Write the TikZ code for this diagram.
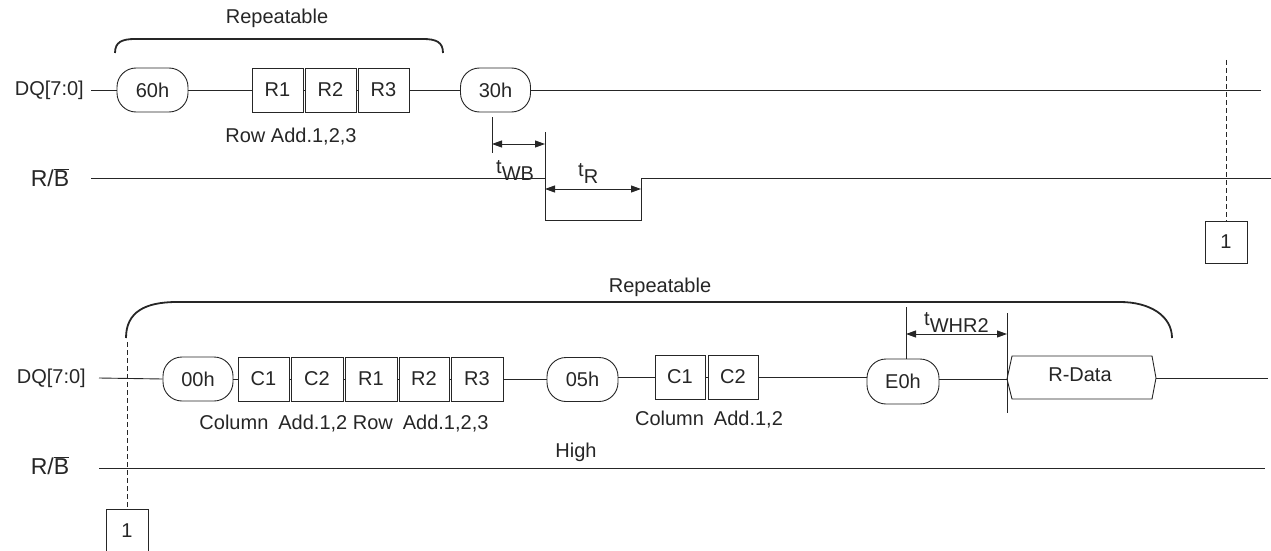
\documentclass[tikz,border=0pt]{standalone}
\usepackage{fontspec}
\setmainfont{Liberation Sans}
\usetikzlibrary{arrows.meta}
\begin{document}
\begin{tikzpicture}[x=1pt,y=-1pt,
  font=\fontsize{20}{24}\selectfont,
  every node/.style={text=black!85},
  sig/.style={line width=0.9pt, draw=black!85},
  brace/.style={line width=1.8pt, draw=black!85},
  pill/.style={draw=black!85, line width=0.9pt, fill=white, rounded corners=19pt, minimum width=71pt, minimum height=44pt, inner sep=0pt},
  cell/.style={draw=black!85, line width=0.9pt, fill=white, minimum width=51pt, minimum height=44pt, inner sep=0pt},
  refbox/.style={draw=black!85, line width=0.9pt, fill=white, minimum width=42pt, minimum height=42pt, inner sep=0pt},
  lbl/.style={inner sep=0pt},
  dim/.style={line width=0.9pt, draw=black!85, {Triangle[length=10pt,width=7pt]}-{Triangle[length=10pt,width=7pt]}},
  guide/.style={line width=0.9pt, draw=black!85},
  dashline/.style={line width=0.9pt, draw=black!85, dash pattern=on 5pt off 3pt}
]
\useasboundingbox (0,0) rectangle (1271,551);

% ---------------- top section ----------------
\node[lbl] (rep1) at (277,18) {Repeatable};
\coordinate (b1l) at (115,53);
\coordinate (b1r) at (443,53);
\draw[brace] (b1l) .. controls (115,42) and (122,39) .. (135,39) -- (423,39) .. controls (436,39) and (443,42) .. (b1r);

\node[lbl, anchor=east] (dq1) at (84,90) {DQ[7:0]};
\coordinate (dq1s) at (91,90);
\node[pill] (p60) at (152.5,90) {60h};
\node[cell] (r11) at (277.5,90) {R1};
\node[cell] (r12) at (330.5,90) {R2};
\node[cell] (r13) at (383.5,90) {R3};
\node[pill, minimum width=70pt] (p30) at (495.5,90) {30h};
\coordinate (dq1e) at (1261,90);
\draw[sig] (dq1s) -- (p60.west);
\draw[sig] (p60.east) -- (r11.west);
\draw[sig] (r11.east) -- (r12.west);
\draw[sig] (r12.east) -- (r13.west);
\draw[sig] (r13.east) -- (p30.west);
\draw[sig] (p30.east) -- (dq1e);
\node[lbl] (row1) at (291,137) {Row Add.1,2,3};

\node[lbl, font=\fontsize{23}{27}\selectfont] (rb1) at (50,178) {R/$\overline{\mbox{B}}$};
\coordinate (rb1s) at (91,178);
\coordinate (fall) at (545,178);
\coordinate (lowa) at (545,220);
\coordinate (lowb) at (641,220);
\coordinate (rise) at (641,178);
\coordinate (rb1e) at (1271,178);
\draw[sig] (rb1s) -- (fall) -- (lowa) -- (lowb) -- (rise) -- (rb1e);

% tWB
\coordinate (wbtop) at (492,117);
\coordinate (wbbot) at (492,153);
\coordinate (wbr) at (545,132);
\draw[guide] (wbtop) -- (wbbot);
\draw[guide] (wbr) -- (fall);
\coordinate (wba) at (492,144);
\coordinate (wbb) at (545,144);
\draw[dim] (wba) -- (wbb);
\node[lbl, anchor=north west] (twb) at (496,160) {t\raisebox{-7pt}{WB}};

% tR
\coordinate (tra) at (545,189);
\coordinate (trb) at (641,189);
\draw[dim] (tra) -- (trb);
\node[lbl, anchor=north west] (ttr) at (578,163) {t\raisebox{-7pt}{R}};

% connector 1 (top)
\node[refbox] (c1top) at (1226,242) {1};
\coordinate (d1top) at (1226,60);
\draw[dashline] (d1top) -- (c1top.north);

% ---------------- bottom section ----------------
\node[lbl] (rep2) at (660,287) {Repeatable};
\coordinate (b2l) at (126,338);
\coordinate (b2r) at (1172,338);
\draw[brace] (b2l) .. controls (126,312) and (145,302) .. (177,302) -- (1120,302) .. controls (1150,302) and (1172,316) .. (b2r);

\node[lbl, anchor=east] (dq2) at (86,378) {DQ[7:0]};
\coordinate (dq2s) at (99,378);
\node[pill, minimum width=70pt] (p00) at (198,379) {00h};
\node[cell] (c21) at (263.5,379) {C1};
\node[cell, minimum width=52pt] (c22) at (317,379) {C2};
\node[cell, minimum width=52pt] (r21) at (371,379) {R1};
\node[cell, minimum width=50pt] (r22) at (424,379) {R2};
\node[cell, minimum width=52pt] (r23) at (477,379) {R3};
\node[pill] (p05) at (582.5,379.5) {05h};
\node[cell, minimum width=50pt] (c31) at (680,377) {C1};
\node[cell, minimum width=50pt] (c32) at (733,377) {C2};
\node[pill, minimum width=72pt, minimum height=45pt] (pe0) at (903,381.5) {E0h};
\coordinate (hx1) at (1007,379);
\coordinate (hx2) at (1012,356);
\coordinate (hx3) at (1152,356);
\coordinate (hx4) at (1156,378);
\coordinate (hx5) at (1152,399);
\coordinate (hx6) at (1012,399);
\draw[sig, fill=white] (hx1) -- (hx2) -- (hx3) -- (hx4) -- (hx5) -- (hx6) -- cycle;
\node[lbl] (rdata) at (1080,375) {R-Data};
\coordinate (dq2e) at (1268,378);

\draw[sig] (dq2s) -- (p00.west);
\draw[sig] (p00.east) -- (c21.west);
\draw[sig] (c21.east) -- (c22.west);
\draw[sig] (c22.east) -- (r21.west);
\draw[sig] (r21.east) -- (r22.west);
\draw[sig] (r22.east) -- (r23.west);
\draw[sig] (r23.east) -- (p05.west |- r23.east);
\draw[sig] (p05.east |- c31.west) -- (c31.west);
\draw[sig] (c31.east) -- (c32.west);
\draw[sig] (c32.east) -- (pe0.west |- c32.east);
\draw[sig] (pe0.east |- hx1) -- (hx1);
\draw[sig] (hx4) -- (dq2e);

\node[lbl] (cr2) at (344,424) {Column\hspace{10pt}Add.1,2 Row\hspace{10pt}Add.1,2,3};
\node[lbl] (cr3) at (709,420) {Column\hspace{10pt}Add.1,2};

% tWHR2
\coordinate (whtop) at (906,307);
\draw[guide] (whtop) -- (pe0.north -| whtop);
\coordinate (wh2t) at (1007,313);
\coordinate (wh2b) at (1007,413);
\draw[guide] (wh2t) -- (wh2b);
\coordinate (wha) at (906,334);
\coordinate (whb) at (1007,334);
\draw[dim] (wha) -- (whb);
\node[lbl, anchor=north west] (twhr) at (924,312) {t\raisebox{-7pt}{WHR2}};

\node[lbl, font=\fontsize{23}{27}\selectfont] (rb2) at (50,466) {R/$\overline{\mbox{B}}$};
\coordinate (rb2s) at (99,468);
\coordinate (rb2e) at (1265,468);
\draw[sig] (rb2s) -- (rb2e);
\node[lbl] (high) at (576,452) {High};

% connector 1 (bottom)
\node[refbox, anchor=north] (c1bot) at (127,509) {1};
\coordinate (d1bot) at (127,342);
\draw[dashline] (d1bot) -- (c1bot.north);
\end{tikzpicture}
\end{document}
